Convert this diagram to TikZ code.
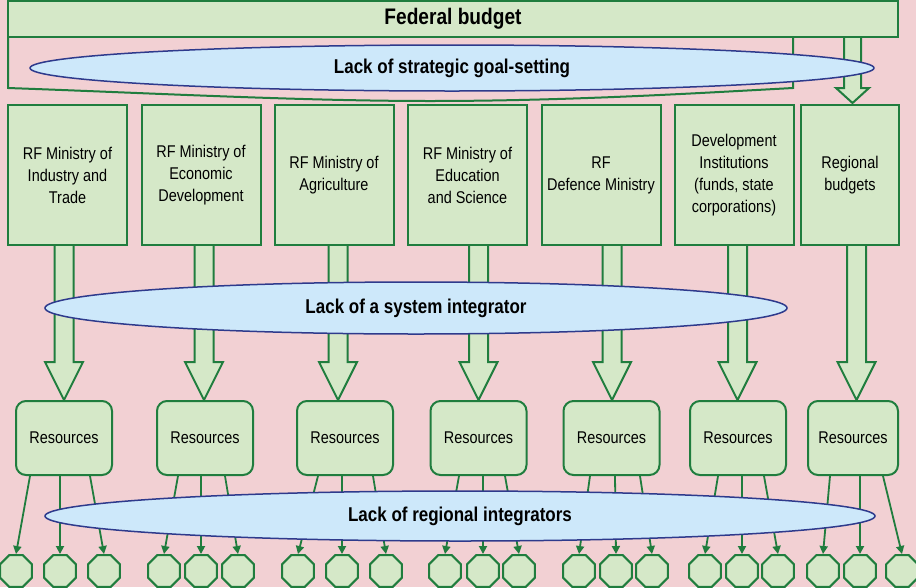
\documentclass[tikz,border=0pt]{standalone}
\usepackage{fontspec}
\setmainfont{Liberation Sans}[FakeStretch=0.85]
\usetikzlibrary{shapes.geometric,arrows.meta,calc}
\definecolor{bgpink}{RGB}{242,208,211}
\definecolor{boxfill}{RGB}{213,232,200}
\definecolor{boxline}{RGB}{32,125,62}
\definecolor{ellfill}{RGB}{205,232,250}
\definecolor{ellline}{RGB}{46,58,140}
\newcommand\bigdownarrow[1]{%
  \draw[blockarrow] (#1-9.5,244) -- (#1-9.5,362) -- (#1-19,362) -- (#1,400) -- (#1+19,362) -- (#1+9.5,362) -- (#1+9.5,244) -- cycle;}
\begin{document}
\begin{tikzpicture}[x=1pt,y=-1pt,
  mbox/.style={draw=boxline, fill=boxfill, line width=2pt, minimum width=119pt, minimum height=140pt, align=center, inner sep=2pt, font=\fontsize{17}{22}\selectfont},
  rbox/.style={draw=boxline, fill=boxfill, line width=2pt, rounded corners=10pt, minimum width=96pt, minimum height=74pt, font=\fontsize{17}{22}\selectfont},
  lack/.style={ellipse, draw=ellline, fill=ellfill, line width=1.5pt, inner sep=0pt, font=\bfseries\fontsize{20}{24}\selectfont},
  oct/.style={regular polygon, regular polygon sides=8, draw=boxline, fill=boxfill, line width=2pt, minimum size=34.6pt, inner sep=0pt},
  blockarrow/.style={draw=boxline, fill=boxfill, line width=2pt, line join=miter},
  conn/.style={draw=boxline, line width=1.8pt, -{Triangle[length=8pt,width=8pt]}}
]
\useasboundingbox (0,0) rectangle (916,587);
\clip (0,0) rectangle (916,587);
\fill[bgpink] (0,0) rectangle (916,587);

% federal budget outline
\draw[boxline, line width=2pt] (8,37) -- (8,88) .. controls (150,93) and (300,101) .. (430,101) .. controls (570,101) and (700,93) .. (793,88) -- (793,37);
% arrow to regional budgets
\draw[blockarrow] (844,30) -- (844,88) -- (836,88) -- (852.5,103) -- (869,88) -- (861,88) -- (861,30) -- cycle;
\node[draw=boxline, fill=boxfill, line width=2pt, minimum width=890pt, minimum height=36pt, inner sep=0pt, font=\bfseries\fontsize{22.5}{26}\selectfont] (fed) at (453,19) {Federal budget};

\node[lack, minimum width=844pt, minimum height=46pt] (goal) at (452,68) {Lack of strategic goal-setting};

% big arrows ministries -> resources
\bigdownarrow{64}
\bigdownarrow{204}
\bigdownarrow{338}
\bigdownarrow{478.5}
\bigdownarrow{612}
\bigdownarrow{737.5}
\bigdownarrow{856.5}

% ministries
\node[mbox] (m1) at (67.5,175) {RF Ministry of\\Industry and\\Trade};
\node[mbox] (m2) at (201,175) {RF Ministry of\\Economic\\Development};
\node[mbox] (m3) at (334,175) {RF Ministry of\\Agriculture};
\node[mbox] (m4) at (467.5,175) {RF Ministry of\\Education\\and Science};
\node[mbox] (m5) at (601,175) {RF\\Defence Ministry};
\node[mbox] (m6) at (734,175) {Development\\Institutions\\(funds, state\\corporations)};
\node[mbox, minimum width=98pt] (m7) at (850,175) {Regional\\budgets};

\node[lack, minimum width=742pt, minimum height=52pt] (sys) at (416,308) {Lack of a system integrator};

% resources
\node[rbox] (r1) at (64,438) {Resources};
\node[rbox] (r2) at (205,438) {Resources};
\node[rbox] (r3) at (345,438) {Resources};
\node[rbox] (r4) at (478.5,438) {Resources};
\node[rbox] (r5) at (611.5,438) {Resources};
\node[rbox] (r6) at (738,438) {Resources};
\node[rbox, minimum width=90pt] (r7) at (853,438) {Resources};

% octagons
\foreach \i/\x in {11/16,12/60,13/104, 21/164,22/201,23/238, 31/298,32/342,33/386,
                   41/445,42/483,43/519, 51/579,52/616,53/652, 61/705,62/742,63/778,
                   71/823,72/860,73/902}
  \node[oct] (o\i) at (\x,571) {};

% connectors
\foreach \i/\b/\dx in {11/r1/-34,12/r1/-4,13/r1/26, 21/r2/-27,22/r2/-4,23/r2/20,
                       31/r3/-27,32/r3/-3,33/r3/28, 41/r4/-19.5,42/r4/4.5,43/r4/26.5,
                       51/r5/-21.5,52/r5/3.5,53/r5/28.5, 61/r6/-20,62/r6/4,63/r6/26,
                       71/r7/-23,72/r7/7,73/r7/30}
  \draw[conn] ([xshift=\dx pt]\b.south) -- (o\i.north);

\node[lack, minimum width=830pt, minimum height=50pt] (reg) at (460,516) {Lack of regional integrators};
\end{tikzpicture}
\end{document}
